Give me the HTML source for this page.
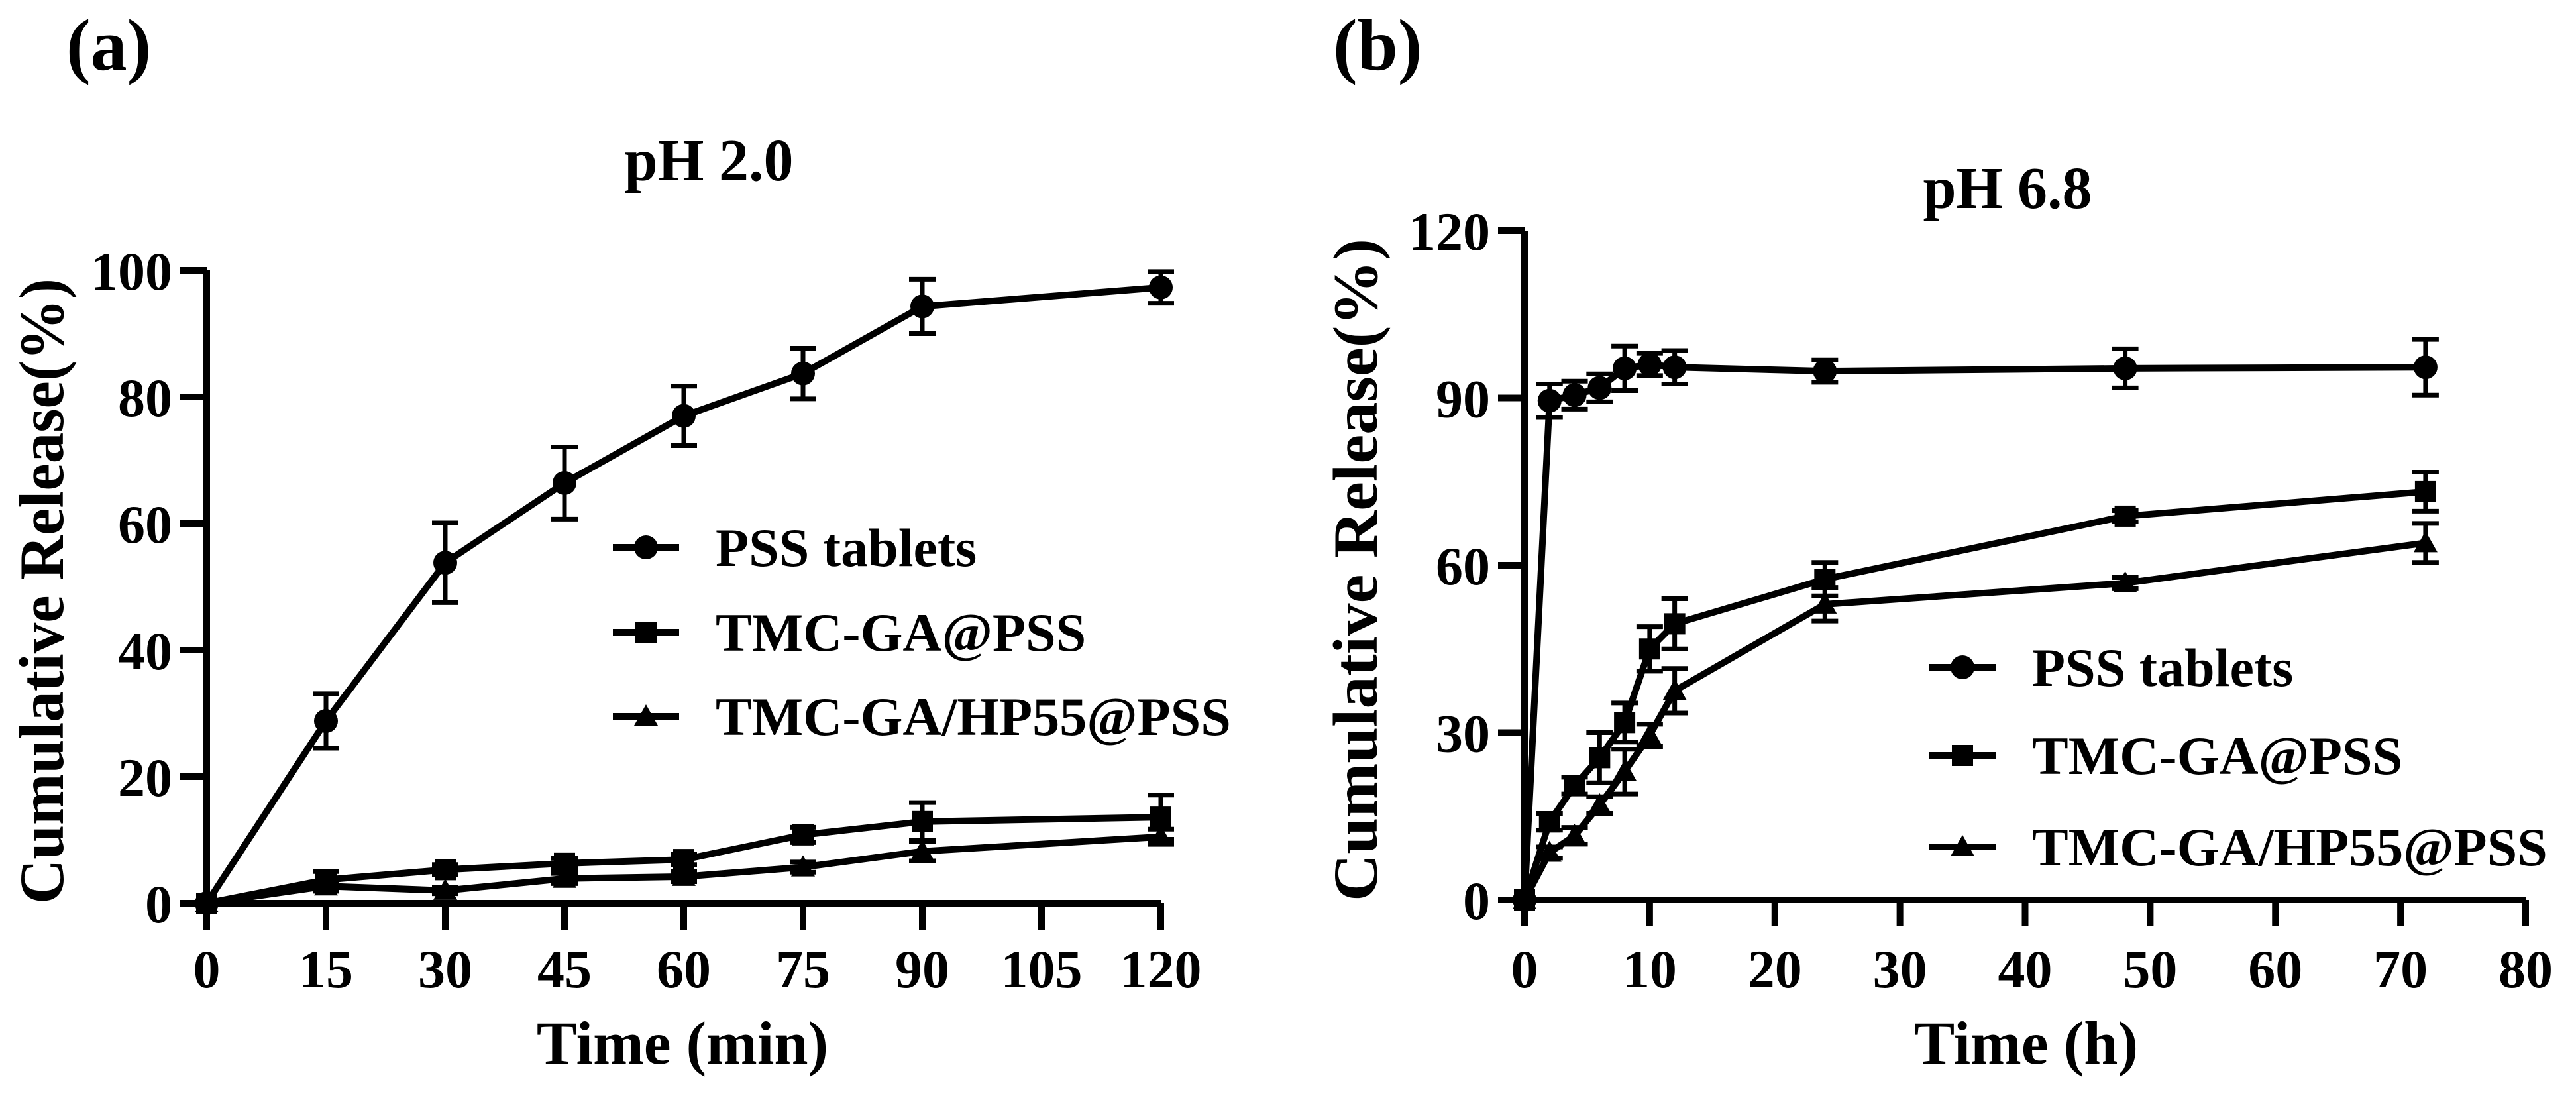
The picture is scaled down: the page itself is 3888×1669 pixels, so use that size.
<!DOCTYPE html>
<html><head><meta charset="utf-8"><title>Cumulative release</title>
<style>html,body{margin:0;padding:0;background:#fff}svg{display:block}text{font-family:"Liberation Serif",serif;font-weight:bold;fill:#000}</style>
</head><body>
<svg id="chart" width="3888" height="1669" viewBox="0 0 3888 1669" xmlns="http://www.w3.org/2000/svg">
<text x="100" y="105" font-size="110">(a)</text>
<text x="2012" y="105" font-size="110">(b)</text>
<text x="1070" y="272" font-size="90" text-anchor="middle">pH 2.0</text>
<text x="3030" y="314" font-size="90" text-anchor="middle">pH 6.8</text>
<text transform="translate(95,892) rotate(-90)" font-size="95" text-anchor="middle" textLength="944" lengthAdjust="spacingAndGlyphs">Cumulative Release(%)</text>
<text transform="translate(2078,860) rotate(-90)" font-size="95" text-anchor="middle" textLength="1000" lengthAdjust="spacingAndGlyphs">Cumulative Release(%)</text>
<text x="1030" y="1605" font-size="92" text-anchor="middle">Time (min)</text>
<text x="3058" y="1605" font-size="92" text-anchor="middle">Time (h)</text>
<g id="ga"></g><g id="gb"></g>
</svg>
<script>
// Panel A data
const aTimes = [0, 15, 30, 45, 60, 75, 90, 120];
const aPSS = [0, 28.8, 53.8, 66.4, 77.0, 83.7, 94.3, 97.3];
const aPSSErr = [0, 4.3, 6.3, 5.7, 4.7, 4.0, 4.3, 2.5];
const aTMC = [0, 3.7, 5.3, 6.3, 6.9, 10.8, 12.9, 13.6];
const aTMCErr = [0, 1.3, 0.8, 0.8, 0.8, 1.2, 3.0, 3.5];
const aHP = [0, 2.7, 2.0, 3.9, 4.2, 5.7, 8.2, 10.5];
const aHPErr = [0, 0.8, 0.5, 0.8, 0.8, 0.8, 1.5, 1.2];
const aXTicks = [0, 15, 30, 45, 60, 75, 90, 105, 120];
const aYTicks = [0, 20, 40, 60, 80, 100];
// Panel B data
const bTimes = [0, 2, 4, 6, 8, 10, 12, 24, 48, 72];
const bPSS = [0, 89.5, 90.5, 91.8, 95.3, 96.0, 95.5, 94.8, 95.3, 95.5];
const bPSSErr = [0, 3, 2.5, 2.5, 4, 2, 3, 2, 3.5, 5];
const bTMC = [0, 14, 20.5, 25.5, 31.8, 45, 49.5, 57.5, 68.8, 73.2];
const bTMCErr = [0, 1.5, 1.5, 4.5, 3.5, 4, 4.5, 3, 1, 3.5];
const bHP = [0, 8.5, 11.5, 17, 23, 29.5, 37.5, 53, 56.8, 64];
const bHPErr = [0, 1, 1.5, 1.5, 4, 2, 4, 3, 1, 3.5];
const bXTicks = [0, 10, 20, 30, 40, 50, 60, 70, 80];
const bYTicks = [0, 30, 60, 90, 120];
const seriesNames = ['PSS tablets', 'TMC-GA@PSS', 'TMC-GA/HP55@PSS'];

const NS = 'http://www.w3.org/2000/svg';
function mk(parent, tag, attrs) {
  const e = document.createElementNS(NS, tag);
  for (const k in attrs) e.setAttribute(k, attrs[k]);
  parent.appendChild(e);
  return e;
}
function marker(g, kind, cx, cy, name) {
  let m;
  if (kind === 0) m = mk(g, 'circle', {cx: cx, cy: cy, r: 18, fill: '#000'});
  else if (kind === 1) m = mk(g, 'rect', {x: cx - 16, y: cy - 16, width: 32, height: 32, fill: '#000'});
  else m = mk(g, 'polygon', {points: (cx) + ',' + (cy - 18) + ' ' + (cx - 18) + ',' + (cy + 14) + ' ' + (cx + 18) + ',' + (cy + 14), fill: '#000'});
  
  
}
function panel(g, cfg) {
  const X = v => cfg.x0 + (v - cfg.xmin) / (cfg.xmax - cfg.xmin) * (cfg.x1 - cfg.x0);
  const Y = v => cfg.y0 - (v - cfg.ymin) / (cfg.ymax - cfg.ymin) * (cfg.y0 - cfg.y1);
  const ax = mk(g, 'path', {d: 'M' + X(cfg.xmin) + ' ' + Y(cfg.ymax) + ' V' + cfg.y0 + ' H' + X(cfg.xmax), stroke: '#000', 'stroke-width': 10, fill: 'none'});
  
  
  cfg.xt.forEach(t => {
    const l = mk(g, 'line', {x1: X(t), x2: X(t), y1: cfg.y0, y2: cfg.y0 + 40, stroke: '#000', 'stroke-width': 10});
    
    
    const tx = mk(g, 'text', {x: X(t), y: 1490, 'font-size': 82, 'text-anchor': 'middle'});
    tx.textContent = t;
    
    
  });
  cfg.yt.forEach(t => {
    const l = mk(g, 'line', {x1: cfg.x0 - 40, x2: cfg.x0, y1: Y(t), y2: Y(t), stroke: '#000', 'stroke-width': 10});
    
    
    const tx = mk(g, 'text', {x: cfg.x0 - 52, y: Y(t) + 29, 'font-size': 82, 'text-anchor': 'end'});
    tx.textContent = t;
    
    
  });
  cfg.series.forEach((s, k) => {
    const sg = mk(g, 'g', {});
    
    
    s.v.forEach((v, i) => {
      if (!s.e[i]) return;
      const x = X(cfg.xs[i]);
      const e = mk(sg, 'path', {d: 'M' + (x - 20) + ' ' + Y(v + s.e[i]) + ' H' + (x + 20) + ' M' + x + ' ' + Y(v + s.e[i]) + ' V' + Y(v - s.e[i]) + ' M' + (x - 20) + ' ' + Y(v - s.e[i]) + ' H' + (x + 20), stroke: '#000', 'stroke-width': 7, fill: 'none'});
      
      
    });
    const ln = mk(sg, 'polyline', {points: s.v.map((v, i) => X(cfg.xs[i]) + ',' + Y(v)).join(' '), stroke: '#000', 'stroke-width': 10, fill: 'none', 'stroke-linejoin': 'round'});
    
    
    s.v.forEach((v, i) => marker(sg, k, X(cfg.xs[i]), Y(v), 'data-point'));
  });
  cfg.leg.forEach((ly, k) => {
    const lg = mk(g, 'g', {});
    
    
    mk(lg, 'line', {x1: cfg.lx, x2: cfg.lx + 100, y1: ly, y2: ly, stroke: '#000', 'stroke-width': 10});
    marker(lg, k, cfg.lx + 50, ly, 'legend-marker');
    const t = mk(lg, 'text', {x: cfg.lx + 155, y: ly + 28, 'font-size': 82});
    t.textContent = seriesNames[k];
  });
}
panel(document.getElementById('ga'), {id: 'panel-a', x0: 312, x1: 1752, xmin: 0, xmax: 120, y0: 1363, y1: 408, ymin: 0, ymax: 100,
  xt: aXTicks, yt: aYTicks, xs: aTimes,
  series: [{v: aPSS, e: aPSSErr}, {v: aTMC, e: aTMCErr}, {v: aHP, e: aHPErr}],
  lx: 925, leg: [826, 954, 1081]});
panel(document.getElementById('gb'), {id: 'panel-b', x0: 2301, x1: 3812, xmin: 0, xmax: 80, y0: 1358, y1: 348, ymin: 0, ymax: 120,
  xt: bXTicks, yt: bYTicks, xs: bTimes,
  series: [{v: bPSS, e: bPSSErr}, {v: bTMC, e: bTMCErr}, {v: bHP, e: bHPErr}],
  lx: 2912, leg: [1007, 1140, 1278]});
</script>
</body></html>
